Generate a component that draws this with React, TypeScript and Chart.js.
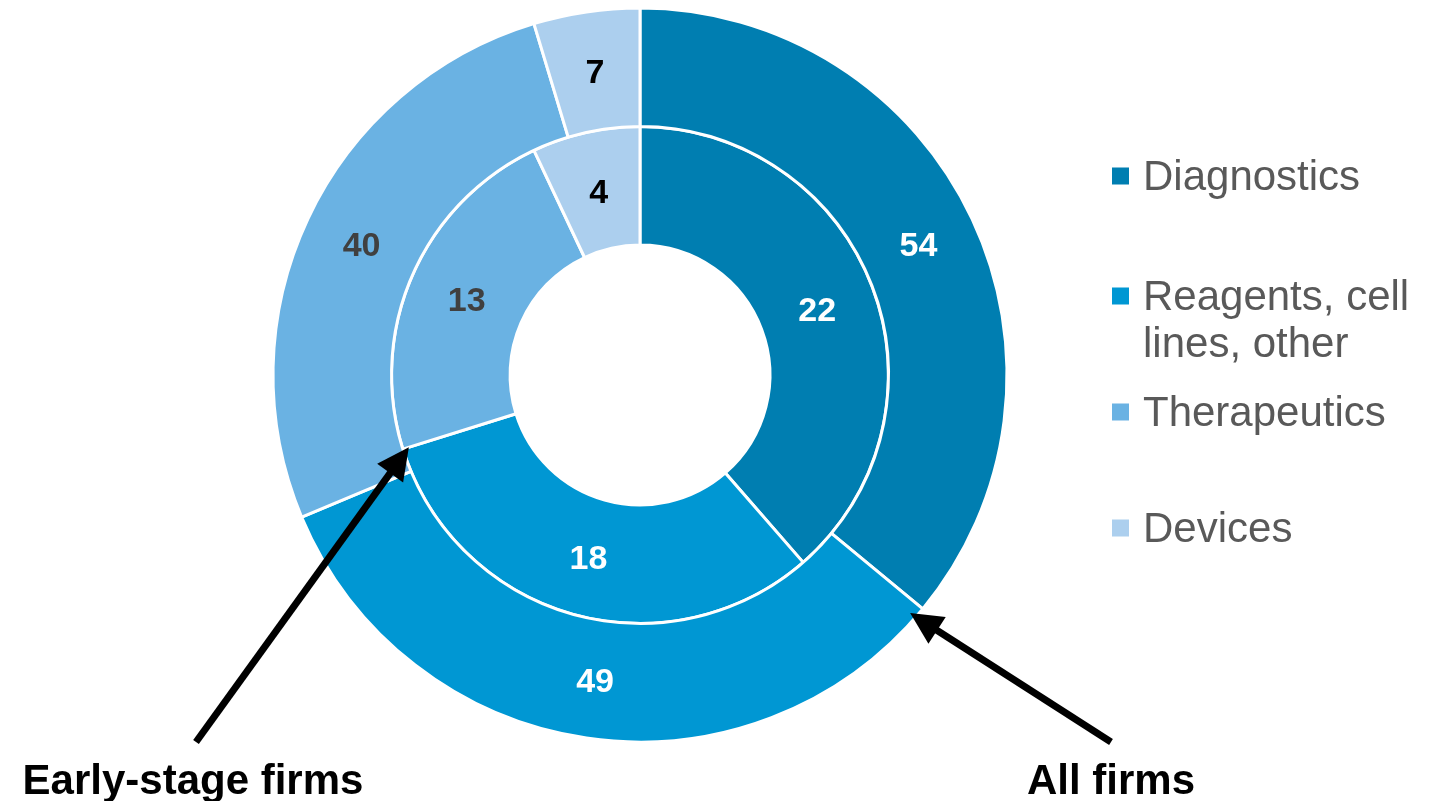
import React, { useEffect, useRef } from "react";
import { Chart, registerables } from "chart.js";

Chart.register(...registerables);

const categories = ["Diagnostics", "Reagents, cell lines, other", "Therapeutics", "Devices"];
const legendLines = [["Diagnostics"], ["Reagents, cell", "lines, other"], ["Therapeutics"], ["Devices"]];
const allFirms = [54, 49, 40, 7];
const earlyStage = [22, 18, 13, 4];
const colors = ["#007EB1", "#0097D3", "#6AB2E3", "#ACCFEE"];
const labelColors = ["#FFFFFF", "#FFFFFF", "#404040", "#000000"];
const seriesNames = ["All firms", "Early-stage firms"];

const FONT = "'Liberation Sans', Arial, Helvetica, sans-serif";

function drawArrow(ctx: CanvasRenderingContext2D, x1: number, y1: number, x2: number, y2: number) {
  const ang = Math.atan2(y2 - y1, x2 - x1);
  const headLen = 32;
  const headW = 16;
  const bx = x2 - headLen * Math.cos(ang);
  const by = y2 - headLen * Math.sin(ang);
  ctx.save();
  ctx.strokeStyle = "#000";
  ctx.fillStyle = "#000";
  ctx.lineWidth = 7;
  ctx.beginPath();
  ctx.moveTo(x1, y1);
  ctx.lineTo(bx + 4 * Math.cos(ang), by + 4 * Math.sin(ang));
  ctx.stroke();
  ctx.beginPath();
  ctx.moveTo(x2, y2);
  ctx.lineTo(bx + headW * Math.sin(ang), by - headW * Math.cos(ang));
  ctx.lineTo(bx - headW * Math.sin(ang), by + headW * Math.cos(ang));
  ctx.closePath();
  ctx.fill();
  ctx.restore();
}

const overlayPlugin = {
  id: "overlay",
  afterDatasetsDraw(chart: any) {
    const ctx: CanvasRenderingContext2D = chart.ctx;
    // value labels
    chart.data.datasets.forEach((ds: any, di: number) => {
      const meta = chart.getDatasetMeta(di);
      meta.data.forEach((arc: any, i: number) => {
        const p = arc.tooltipPosition();
        ctx.save();
        ctx.font = `bold 34px ${FONT}`;
        ctx.fillStyle = labelColors[i];
        ctx.textAlign = "center";
        ctx.textBaseline = "middle";
        ctx.fillText(String(ds.data[i]), p.x, p.y + 3);
        ctx.restore();
      });
    });

    // legend
    const legendX = 1112;
    const legendY = [176, 296, 412, 528];
    legendLines.forEach((lines, i) => {
      ctx.save();
      ctx.fillStyle = colors[i];
      ctx.fillRect(legendX, legendY[i] - 8.5, 17, 17);
      ctx.font = `42px ${FONT}`;
      ctx.fillStyle = "#595959";
      ctx.textAlign = "left";
      ctx.textBaseline = "middle";
      lines.forEach((ln, k) => {
        ctx.fillText(ln, legendX + 31, legendY[i] + k * 47 + 2);
      });
      ctx.restore();
    });

    // arrows pointing at series
    const outerMeta = chart.getDatasetMeta(0);
    const innerMeta = chart.getDatasetMeta(1);
    const oArc = outerMeta.data[0];
    const iArc = innerMeta.data[1];
    const oTip = {
      x: oArc.x + (oArc.outerRadius - 6) * Math.cos(oArc.endAngle) - 8,
      y: oArc.y + (oArc.outerRadius - 6) * Math.sin(oArc.endAngle) + 8,
    };
    const iTip = {
      x: iArc.x + iArc.outerRadius * Math.cos(iArc.endAngle) + 6,
      y: iArc.y + iArc.outerRadius * Math.sin(iArc.endAngle) - 2,
    };
    drawArrow(ctx, 1111, 742, oTip.x, oTip.y);
    drawArrow(ctx, 196, 742, iTip.x, iTip.y);

    ctx.save();
    ctx.font = `bold 42px ${FONT}`;
    ctx.fillStyle = "#000";
    ctx.textAlign = "center";
    ctx.textBaseline = "alphabetic";
    ctx.fillText(seriesNames[1], 193, 794);
    ctx.fillText(seriesNames[0], 1111, 794);
    ctx.restore();
  },
};

export default function App() {
  const ref = useRef<HTMLCanvasElement | null>(null);
  useEffect(() => {
    if (!ref.current) return;
    const chart = new Chart(ref.current, {
      type: "doughnut",
      data: {
        labels: categories,
        datasets: [
          {
            label: seriesNames[0],
            data: allFirms,
            backgroundColor: colors,
            borderColor: "#FFFFFF",
            borderWidth: 3,
            hoverBorderWidth: 3,
          },
          {
            label: seriesNames[1],
            data: earlyStage,
            backgroundColor: colors,
            borderColor: "#FFFFFF",
            borderWidth: 3,
            hoverBorderWidth: 3,
          },
        ],
      },
      options: {
        responsive: false,
        animation: false,
        cutout: "35.4%",
        layout: { padding: { left: 271.5, right: 428.5, top: 6.5, bottom: 57.5 } },
        plugins: {
          legend: { display: false },
          tooltip: { enabled: false },
          title: { display: false },
        },
        events: [],
      },
      plugins: [overlayPlugin],
    });
    return () => chart.destroy();
  }, []);
  return (
    <div style={{ position: "fixed", left: 0, top: 0, width: 1437, height: 801, background: "#fff" }}>
      <canvas ref={ref} width={1437} height={801} style={{ display: "block" }} />
    </div>
  );
}
